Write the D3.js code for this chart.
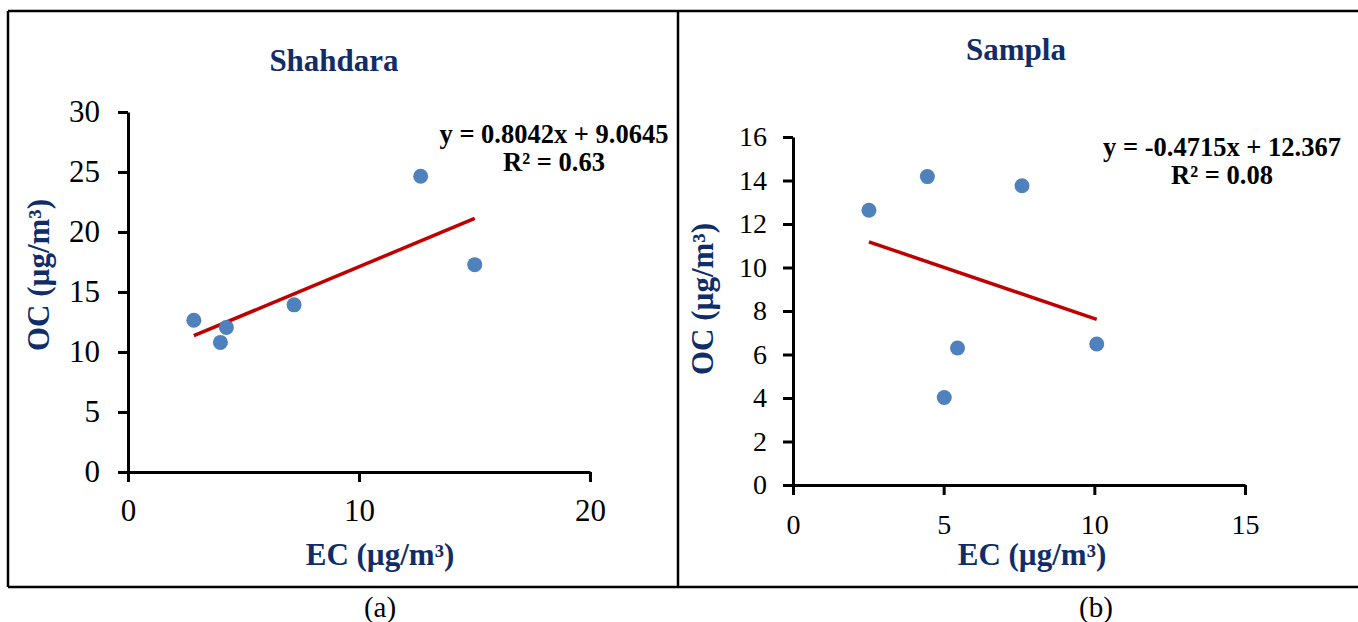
<!DOCTYPE html>
<html>
<head>
<meta charset="utf-8">
<script src="https://cdn.jsdelivr.net/npm/d3@7"></script>
<style>
  body { margin: 0; background: #fff; }
  svg { display: block; font-family: "Liberation Serif", "Times New Roman", serif; }
  .axis path, .axis line { stroke: #000; stroke-width: 3; }
  .axis text { fill: #000; }
</style>
</head>
<body>
<svg width="1358" height="622"></svg>
<script>
// Données
const shahdaraEC = [2.85, 4.0, 4.26, 7.19, 12.67, 15.01];
const shahdaraOC = [12.65, 10.8, 12.05, 13.93, 24.65, 17.28];
const samplaEC = [2.52, 4.46, 7.6, 5.46, 5.02, 10.08];
const samplaOC = [12.63, 14.18, 13.76, 6.3, 4.02, 6.48];

// Droites de régression affichées
const shahdaraFit = { slope: 0.8042, intercept: 9.0645, r2: "0.63" };
const samplaFit = { slope: -0.4715, intercept: 12.367, r2: "0.08" };

const shahdaraXTicks = [0, 10, 20];
const shahdaraYTicks = [0, 5, 10, 15, 20, 25, 30];
const samplaXTicks = [0, 5, 10, 15];
const samplaYTicks = [0, 2, 4, 6, 8, 10, 12, 14, 16];

const navy = "#102D68";
const svg = d3.select("svg");

// Cadres des deux panneaux
const frame = svg.append("g").attr("fill", "none").attr("stroke", "#000").attr("stroke-width", 2.5);
frame.append("line").attr("x1", 8).attr("x2", 1358).attr("y1", 11).attr("y2", 11);
frame.append("line").attr("x1", 8).attr("x2", 1358).attr("y1", 587).attr("y2", 587);
frame.append("line").attr("x1", 8).attr("x2", 8).attr("y1", 11).attr("y2", 587);
frame.append("line").attr("x1", 678).attr("x2", 678).attr("y1", 11).attr("y2", 587);

// Fonction pour dessiner un panneau
function drawPanel(p) {
  const x = d3.scaleLinear().domain(p.xDomain).range([p.left, p.right]);
  const y = d3.scaleLinear().domain(p.yDomain).range([p.bottom, p.top]);
  const g = svg.append("g");

  g.append("g").attr("class", "axis")
    .attr("transform", `translate(0,${p.bottom})`)
    .call(d3.axisBottom(x).tickValues(p.xTicks).tickSize(10).tickSizeOuter(0).tickPadding(p.xPad))
    .attr("font-family", null).attr("font-size", p.tickFont);

  g.append("g").attr("class", "axis")
    .attr("transform", `translate(${p.left},0)`)
    .call(d3.axisLeft(y).tickValues(p.yTicks).tickSize(10).tickSizeOuter(0).tickPadding(p.yPad))
    .attr("font-family", null).attr("font-size", p.tickFont);

  // Droite de tendance entre le min et le max de EC
  const ext = d3.extent(p.ec);
  g.append("path")
    .attr("d", d3.line().x(d => x(d)).y(d => y(p.fit.slope * d + p.fit.intercept))(ext))
    .attr("stroke", "#C00000").attr("stroke-width", 3.5).attr("fill", "none");

  g.selectAll("circle").data(p.ec.map((d, i) => [d, p.oc[i]])).enter().append("circle")
    .attr("cx", d => x(d[0])).attr("cy", d => y(d[1])).attr("r", 7.5)
    .attr("fill", "#4F81BD");

  g.append("text").attr("x", p.titleX).attr("y", p.titleY)
    .attr("text-anchor", "middle").attr("font-size", 31).attr("font-weight", "bold")
    .attr("fill", navy).text(p.name);

  g.append("text").attr("x", p.xTitleX).attr("y", 565)
    .attr("text-anchor", "middle").attr("font-size", 31).attr("font-weight", "bold")
    .attr("fill", navy).text("EC (µg/m³)");

  g.append("text").attr("transform", `translate(${p.yTitleX},${p.yTitleY}) rotate(-90)`)
    .attr("text-anchor", "middle").attr("font-size", 31).attr("font-weight", "bold")
    .attr("fill", navy).text("OC (µg/m³)");

  const sign = p.fit.intercept >= 0 ? "+" : "-";
  g.append("text").attr("x", p.eqX).attr("y", p.eqY)
    .attr("text-anchor", "middle").attr("font-size", 26.5).attr("font-weight", "bold")
    .text(`y = ${p.fit.slope}x ${sign} ${Math.abs(p.fit.intercept)}`);
  g.append("text").attr("x", p.eqX).attr("y", p.eqY + 28)
    .attr("text-anchor", "middle").attr("font-size", 26.5).attr("font-weight", "bold")
    .text(`R² = ${p.fit.r2}`);

  g.append("text").attr("x", p.capX).attr("y", 617)
    .attr("text-anchor", "middle").attr("font-size", 29).text(p.caption);
}

drawPanel({
  name: "Shahdara", caption: "(a)", ec: shahdaraEC, oc: shahdaraOC, fit: shahdaraFit,
  xDomain: [0, 20], yDomain: [0, 30], xTicks: shahdaraXTicks, yTicks: shahdaraYTicks,
  left: 128, right: 590, top: 112, bottom: 472, tickFont: 31, xPad: 17, yPad: 18,
  titleX: 334, titleY: 71, xTitleX: 380, yTitleX: 49, yTitleY: 275,
  eqX: 554, eqY: 143, capX: 380
});

drawPanel({
  name: "Sampla", caption: "(b)", ec: samplaEC, oc: samplaOC, fit: samplaFit,
  xDomain: [0, 15], yDomain: [0, 16], xTicks: samplaXTicks, yTicks: samplaYTicks,
  left: 793, right: 1245, top: 137, bottom: 485, tickFont: 28, xPad: 19, yPad: 16,
  titleX: 1016, titleY: 60, xTitleX: 1032, yTitleX: 713, yTitleY: 299,
  eqX: 1222, eqY: 156, capX: 1096
});
</script>
</body>
</html>
